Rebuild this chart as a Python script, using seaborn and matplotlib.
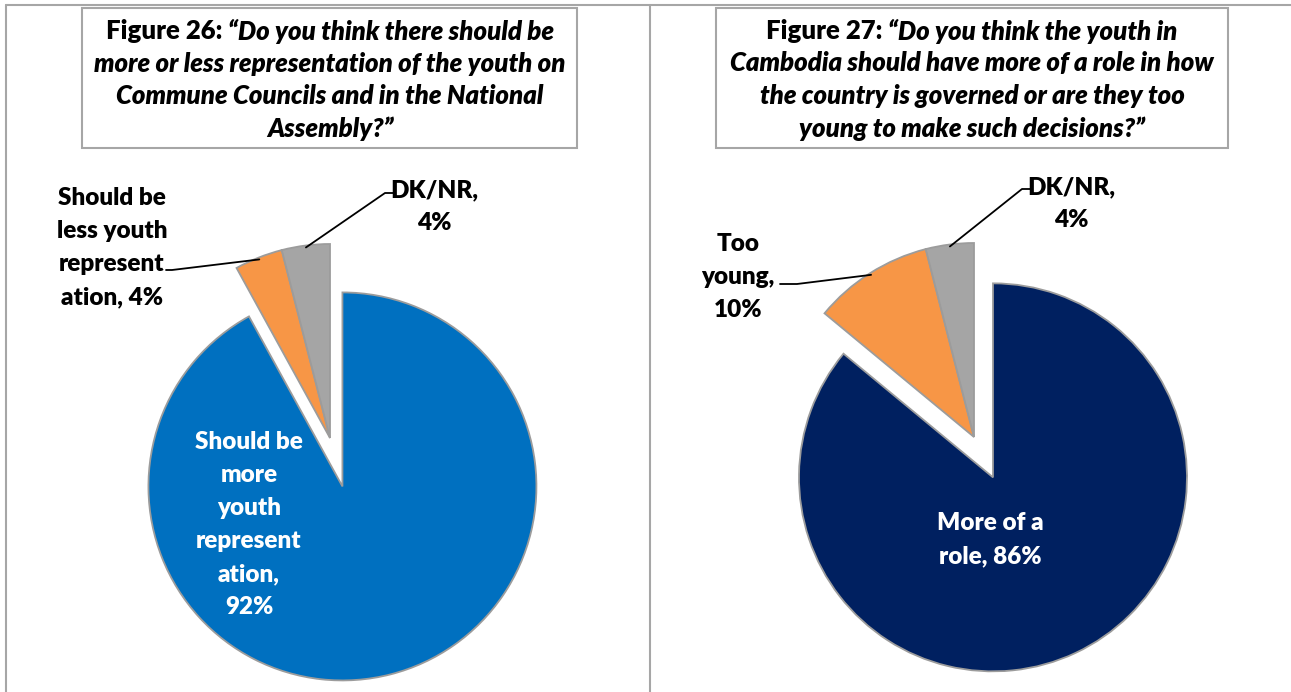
import matplotlib
matplotlib.use("Agg")
import matplotlib.pyplot as plt
from matplotlib.patches import Rectangle
import numpy as np
import seaborn as sns

# ---- data -------------------------------------------------------------
fig26_categories = ["Should be\nmore\nyouth\nrepresent\nation",
                    "Should be\nless youth\nrepresent\nation",
                    "DK/NR"]
fig26_values = [92, 4, 4]

fig27_categories = ["More of a\nrole", "Too\nyoung", "DK/NR"]
fig27_values = [86, 10, 4]

fig26_heading = "Figure 26: "
fig26_question = ["“Do you think there should be",
                  "more or less representation of the youth on",
                  "Commune Councils and in the National",
                  "Assembly?”"]
fig27_heading = "Figure 27: "
fig27_question = ["“Do you think the youth in",
                  "Cambodia should have more of a role in how",
                  "the country is governed or are they too",
                  "young to make such decisions?”"]

fig26_colors = ["#0070C0", "#F79646", "#A5A5A5"]
fig27_colors = ["#002060", "#F79646", "#A5A5A5"]

# ---- setup ------------------------------------------------------------
sns.set_theme(style="white")
plt.rcParams["font.family"] = ["Lato", "DejaVu Sans"]

W, H = 1291, 692
fig = plt.figure(figsize=(W / 100, H / 100), dpi=100)
ax = fig.add_axes([0, 0, 1, 1])


def Y(py):
    """Convert a top-down pixel row into the axes' y coordinate."""
    return H - py


BORDER = "#a6a6a6"
TXT = 17.5
TITLE = 18.5
WEIGHT = "heavy"
STEP = 33

# panel frames
ax.plot([6, 6], [Y(5), Y(700)], color=BORDER, lw=1.5)
ax.plot([6, 1300], [Y(5), Y(5)], color=BORDER, lw=1.5)
ax.plot([650, 650], [Y(5), Y(700)], color=BORDER, lw=1.5)

# title boxes
for (x0, x1) in [(82, 577), (716, 1228)]:
    ax.add_patch(Rectangle((x0, Y(148)), x1 - x0, 140, fill=False,
                           edgecolor=BORDER, lw=1.5, zorder=3))

fig.canvas.draw()
renderer = fig.canvas.get_renderer()


def text_width(s, **kw):
    t = ax.text(0, 0, s, fontsize=TITLE, **kw)
    bb = t.get_window_extent(renderer=renderer)
    t.remove()
    return bb.width


def draw_title(cx, heading, question, y0):
    wh = text_width(heading, fontweight=WEIGHT)
    wq = text_width(question[0], fontweight=WEIGHT, fontstyle="italic")
    left = cx - (wh + wq) / 2
    ax.text(left, Y(y0), heading, fontsize=TITLE, fontweight=WEIGHT,
            ha="left", va="center", color="black")
    ax.text(left + wh, Y(y0), question[0], fontsize=TITLE, fontweight=WEIGHT,
            fontstyle="italic", ha="left", va="center", color="black")
    for i, line in enumerate(question[1:], start=1):
        ax.text(cx, Y(y0 + i * 32.5), line, fontsize=TITLE, fontweight=WEIGHT,
                fontstyle="italic", ha="center", va="center", color="black")


draw_title(330, fig26_heading, fig26_question, 31)
draw_title(972, fig27_heading, fig27_question, 31)


def draw_lines(cx, y0, text, color="black"):
    for i, line in enumerate(text.split("\n")):
        ax.text(cx, Y(y0 + i * STEP), line, fontsize=TXT, fontweight=WEIGHT,
                ha="center", va="center", color=color, zorder=6)


def draw_pie(apex, explode, values, colors):
    wedges, _ = ax.pie(values, colors=colors, startangle=90, counterclock=False,
                       center=(apex[0], Y(apex[1])), radius=194,
                       explode=[explode, 0, 0], frame=True,
                       wedgeprops=dict(edgecolor="#9c9c9c", linewidth=1.3))
    return wedges


def arc_mid(w, frac=0.99):
    th = np.deg2rad((w.theta1 + w.theta2) / 2)
    cx, cy = w.center
    return cx + frac * w.r * np.cos(th), cy + frac * w.r * np.sin(th)


def label(cat, val, sep):
    return f"{cat},{sep}{val}%"


# ---- Figure 26 pie ----
w26 = draw_pie((330, 438), 50, fig26_values, fig26_colors)
draw_lines(249, 442, label(fig26_categories[0], fig26_values[0], "\n"), color="white")
draw_lines(112, 198, label(fig26_categories[1], fig26_values[1], " "))
draw_lines(434, 190, label(fig26_categories[2], fig26_values[2], "\n"))

mx, my = arc_mid(w26[1])
ax.plot([mx, 172, 166], [my, Y(270), Y(270)], color="black", lw=1.3, zorder=5)
mx, my = arc_mid(w26[2])
ax.plot([mx, 385, 393], [my, Y(193), Y(193)], color="black", lw=1.3, zorder=5)

# ---- Figure 27 pie ----
w27 = draw_pie((974, 437), 44.6, fig27_values, fig27_colors)
draw_lines(990, 523, label(fig27_categories[0], fig27_values[0], " "), color="white")
draw_lines(738, 244, label(fig27_categories[1], fig27_values[1], "\n"))
draw_lines(1071, 187, label(fig27_categories[2], fig27_values[2], "\n"))

mx, my = arc_mid(w27[1])
ax.plot([mx, 797, 780], [my, Y(284), Y(284)], color="black", lw=1.3, zorder=5)
mx, my = arc_mid(w27[2])
ax.plot([mx, 1022, 1030], [my, Y(189), Y(189)], color="black", lw=1.3, zorder=5)

ax.set_xlim(0, W)
ax.set_ylim(0, H)
ax.set_aspect("auto")
ax.axis("off")

fig.savefig("out.png", dpi=100)
